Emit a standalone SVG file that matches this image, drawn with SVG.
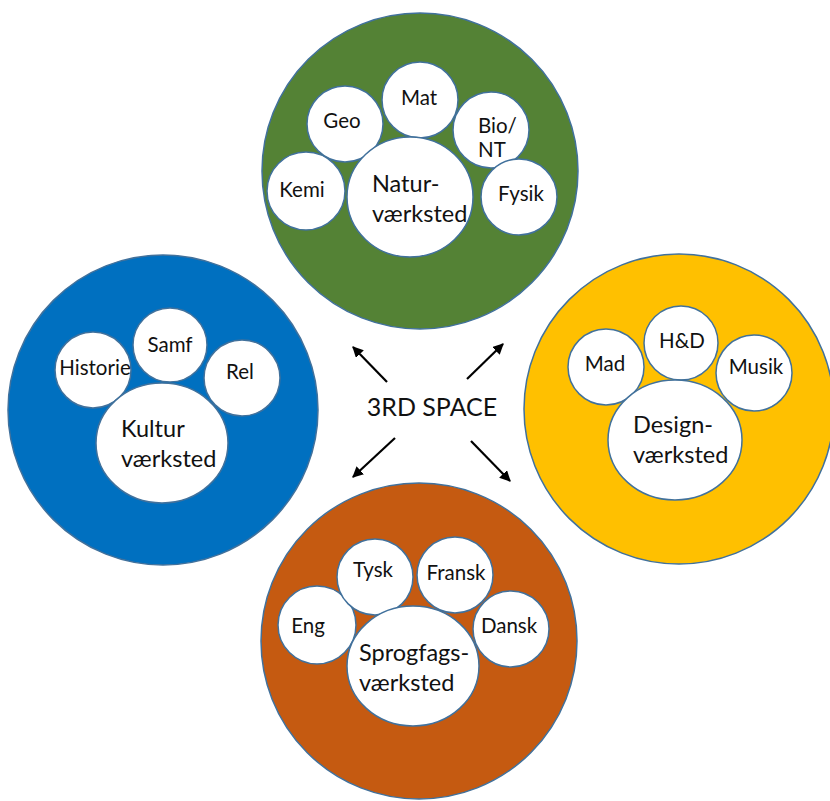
<svg xmlns="http://www.w3.org/2000/svg" width="830" height="801" viewBox="0 0 830 801">
<defs>
<marker id="ah" viewBox="0 0 10 10" refX="9" refY="5" markerWidth="5" markerHeight="5" orient="auto" markerUnits="strokeWidth">
<path d="M0,0 L10,5 L0,10 z" fill="#000"/>
</marker>
</defs>
<style>
.outer{stroke:#41719C;stroke-width:1.5}
.g{fill:#548235}.b{fill:#0070C0}.y{fill:#FFC000}.o{fill:#C55A11}
.in{fill:#fff;stroke:#41719C;stroke-width:1.5}
text{font-family:Lato,"Open Sans","Liberation Sans",sans-serif;fill:#111}
.s{font-size:20.5px;text-anchor:middle}
.sl{font-size:20.5px}
.bg{font-size:23.5px}
.c{font-size:25px;text-anchor:middle}
.arr{stroke:#000;stroke-width:2.2;fill:none;marker-end:url(#ah)}
</style>
<rect width="830" height="801" fill="#fff"/>

<g id="natur">
<circle class="outer g" cx="420" cy="171" r="158"/>
<circle class="in" cx="420" cy="100" r="38"/>
<circle class="in" cx="345" cy="124" r="38"/>
<circle class="in" cx="491" cy="130" r="38"/>
<circle class="in" cx="306" cy="191" r="39"/>
<circle class="in" cx="519" cy="197" r="38"/>
<ellipse class="in" cx="410" cy="197" rx="63" ry="60"/>
<text class="s" x="419" y="105">Mat</text>
<text class="s" x="342" y="128">Geo</text>
<text class="sl" x="478" y="133">Bio/</text>
<text class="sl" x="478" y="157">NT</text>
<text class="s" x="302" y="197">Kemi</text>
<text class="s" x="521" y="201">Fysik</text>
<text class="bg" x="372" y="192">Natur-</text>
<text class="bg" x="372" y="222">værksted</text>
</g>

<g id="kultur">
<circle class="outer b" cx="163" cy="410" r="155"/>
<circle class="in" cx="93" cy="370" r="38"/>
<circle class="in" cx="170" cy="345" r="37"/>
<circle class="in" cx="242" cy="378" r="38"/>
<ellipse class="in" cx="162" cy="443" rx="66" ry="60"/>
<text class="s" x="95" y="375">Historie</text>
<text class="s" x="170" y="352">Samf</text>
<text class="s" x="240" y="379">Rel</text>
<text class="bg" x="121" y="437">Kultur</text>
<text class="bg" x="121" y="467">værksted</text>
</g>

<g id="design">
<circle class="outer y" cx="679" cy="409" r="155"/>
<circle class="in" cx="606" cy="367" r="38"/>
<circle class="in" cx="681" cy="343" r="37"/>
<circle class="in" cx="754" cy="373" r="38"/>
<ellipse class="in" cx="675" cy="440" rx="67" ry="60"/>
<text class="s" x="605" y="371">Mad</text>
<text class="s" x="682" y="348">H&amp;D</text>
<text class="s" x="756" y="374">Musik</text>
<text class="bg" x="633" y="433">Design-</text>
<text class="bg" x="633" y="463">værksted</text>
</g>

<g id="sprog">
<circle class="outer o" cx="419" cy="641" r="158"/>
<circle class="in" cx="317" cy="625" r="39"/>
<circle class="in" cx="375" cy="577" r="38"/>
<circle class="in" cx="455" cy="575" r="38"/>
<circle class="in" cx="511" cy="629" r="38"/>
<ellipse class="in" cx="413" cy="666" rx="66" ry="60"/>
<text class="s" x="308" y="633">Eng</text>
<text class="s" x="373" y="577">Tysk</text>
<text class="s" x="456" y="580">Fransk</text>
<text class="s" x="509" y="633">Dansk</text>
<text class="bg" x="359" y="661">Sprogfags-</text>
<text class="bg" x="359" y="691">værksted</text>
</g>

<g id="center">
<text class="c" x="432" y="416">3RD SPACE</text>
</g>

<g id="connectors">
<line class="arr" x1="387" y1="382" x2="353" y2="347"/>
<line class="arr" x1="467" y1="379" x2="503" y2="344"/>
<line class="arr" x1="395" y1="438" x2="353" y2="477"/>
<line class="arr" x1="471" y1="441" x2="510" y2="481"/>
</g>
</svg>
